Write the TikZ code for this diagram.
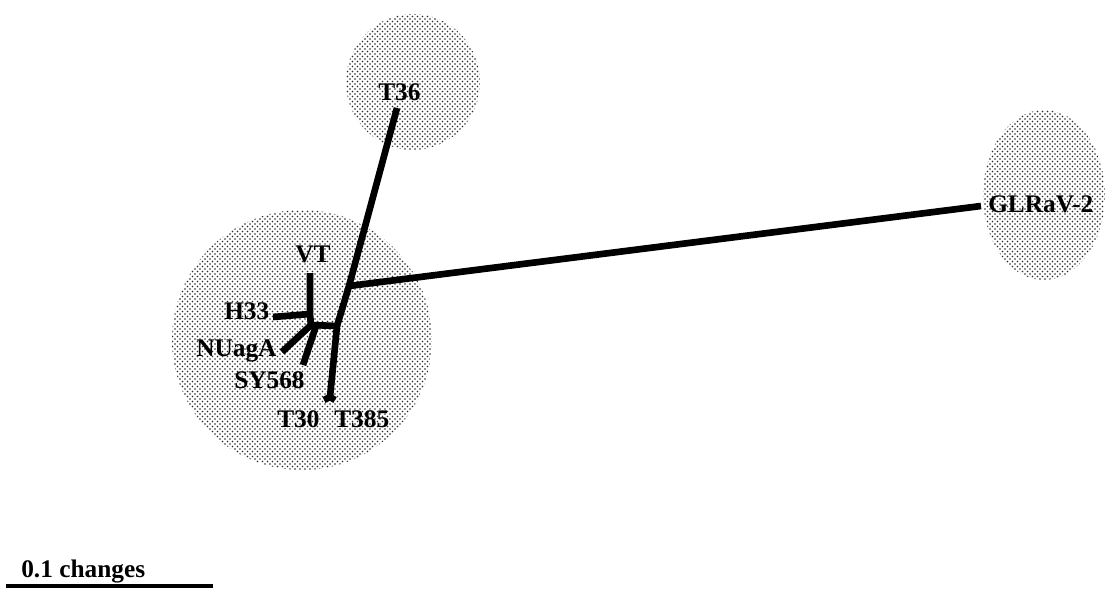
\documentclass[tikz,border=0pt]{standalone}
\usepackage{fontspec}
\setmainfont{Liberation Serif}
\usetikzlibrary{patterns}
% staggered dot screen for the cluster shading
\pgfdeclarepatternformonly{clusterdots}{\pgfpoint{-0.7pt}{-0.7pt}}{\pgfpoint{2.6pt}{2.6pt}}{\pgfpoint{3.75pt}{3.75pt}}{%
  \pgfpathcircle{\pgfpoint{0pt}{0pt}}{0.62pt}%
  \pgfpathcircle{\pgfpoint{1.875pt}{1.875pt}}{0.62pt}%
  \pgfusepath{fill}}
\begin{document}
\begin{tikzpicture}[x=0.75pt,y=-0.75pt,
  cluster/.style={pattern=clusterdots,pattern color=black!85,draw=none},
  branch/.style={line width=5pt,line cap=butt,line join=miter},
  taxon/.style={inner sep=0pt,anchor=base west,font=\fontsize{19}{21}\selectfont\bfseries},
  scalebar/.style={line width=3pt}]
\useasboundingbox (0,0) rectangle (1105,589);

% shaded clusters
\fill[cluster] (302,340) ellipse [x radius=130,y radius=130];
\fill[cluster] (413,82) ellipse [x radius=67,y radius=68];
\fill[cluster] (1044,195) ellipse [x radius=61,y radius=85];

% tips
\coordinate (vt) at (310,273);
\coordinate (h33) at (273,317);
\coordinate (nuaga) at (282,352);
\coordinate (sy568) at (303,365);
\coordinate (t30) at (324,400);
\coordinate (t385) at (335,400);
\coordinate (t36) at (397,108);
\coordinate (glrav) at (981,206);

% internal nodes
\coordinate (j1) at (310,314);
\coordinate (j2) at (311,325);
\coordinate (j3) at (316,326);
\coordinate (j4) at (337,326);
\coordinate (j5) at (330,397);
\coordinate (j6) at (349,286);

% branches
\draw[branch] (vt) -- (j1) -- (j2);
\draw[branch] (h33) -- (j1);
\draw[branch] (j2) -- (j4);
\draw[branch] (nuaga) -- (j2);
\draw[branch] (sy568) -- (j3);
\draw[branch] (j4) -- (j5);
\draw[branch] (j5) -- (t30);
\draw[branch] (j5) -- (t385);
\draw[branch] (j4) -- (j6) -- (t36);
\draw[branch] (j6) -- (glrav);

% taxon labels
\node[taxon] (lt36) at (378,100) {T36};
\node[taxon] (lglrav) at (988,212) {GLRaV-2};
\node[taxon] (lvt) at (295,262) {VT};
\node[taxon] (lh33) at (224,319) {H33};
\node[taxon] (lnuaga) at (196,356) {NUagA};
\node[taxon] (lsy568) at (234,388) {SY568};
\node[taxon] (lt30) at (277,427) {T30};
\node[taxon] (lt385) at (334,427) {T385};

% scale bar
\node[taxon] (lscale) at (21,577) {0.1 changes};
\coordinate (sb1) at (6,586);
\coordinate (sb2) at (213,586);
\draw[scalebar] (sb1) -- (sb2);
\end{tikzpicture}
\end{document}
